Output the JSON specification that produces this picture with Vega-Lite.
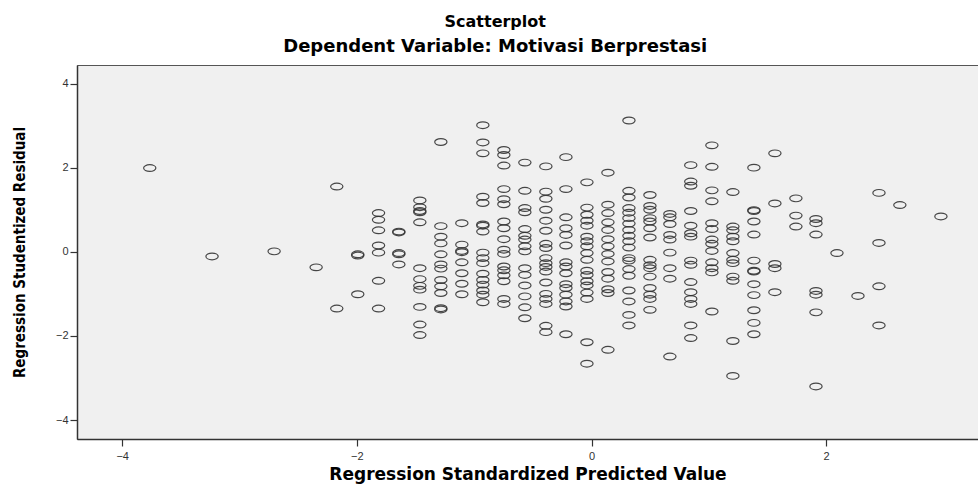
{
  "$schema": "https://vega.github.io/schema/vega-lite/v6.json",
  "width": 901,
  "height": 374,
  "autosize": {"type": "none"},
  "padding": {"left": 77, "top": 65, "right": 0, "bottom": 45},
  "background": "#ffffff",
  "title": {
    "text": "Scatterplot",
    "subtitle": "Dependent Variable: Motivasi Berprestasi",
    "anchor": "middle",
    "frame": "bounds",
    "font": "DejaVu Sans",
    "fontSize": 16,
    "fontWeight": "bold",
    "color": "#000000",
    "subtitleFont": "DejaVu Sans",
    "subtitleFontSize": 18,
    "subtitleFontWeight": "bold",
    "subtitleColor": "#000000",
    "subtitlePadding": 8,
    "offset": 9
  },
  "config": {
    "view": {"fill": "#f0f0f0", "stroke": "#555555", "strokeWidth": 1}
  },
  "data": {
    "values": [
      {"x": -3.765, "y": 1.99},
      {"x": -3.234, "y": -0.11},
      {"x": -2.705, "y": 0.01},
      {"x": -2.347, "y": -0.37},
      {"x": -2.171, "y": 1.55}, {"x": -2.171, "y": -1.35},
      {"x": -1.992, "y": -0.06}, {"x": -1.992, "y": -0.09}, {"x": -1.992, "y": -1.01},
      {"x": -1.815, "y": 0.92}, {"x": -1.815, "y": 0.76}, {"x": -1.815, "y": 0.51}, {"x": -1.815, "y": 0.15}, {"x": -1.815, "y": -0.02}, {"x": -1.815, "y": -0.69}, {"x": -1.815, "y": -1.35},
      {"x": -1.642, "y": 0.48}, {"x": -1.642, "y": 0.46}, {"x": -1.642, "y": -0.03}, {"x": -1.642, "y": -0.06}, {"x": -1.642, "y": -0.30},
      {"x": -1.463, "y": 1.22}, {"x": -1.463, "y": 1.06}, {"x": -1.463, "y": 0.97}, {"x": -1.463, "y": 0.94}, {"x": -1.463, "y": 0.70}, {"x": -1.463, "y": -0.39}, {"x": -1.463, "y": -0.65}, {"x": -1.463, "y": -0.81}, {"x": -1.463, "y": -0.90}, {"x": -1.463, "y": -1.31}, {"x": -1.463, "y": -1.73}, {"x": -1.463, "y": -1.98},
      {"x": -1.284, "y": 2.61}, {"x": -1.284, "y": 0.61}, {"x": -1.284, "y": 0.36}, {"x": -1.284, "y": 0.20}, {"x": -1.284, "y": -0.06}, {"x": -1.284, "y": -0.30}, {"x": -1.284, "y": -0.40}, {"x": -1.284, "y": -0.67}, {"x": -1.284, "y": -0.82}, {"x": -1.284, "y": -0.98}, {"x": -1.284, "y": -1.34}, {"x": -1.284, "y": -1.37},
      {"x": -1.105, "y": 0.68}, {"x": -1.105, "y": 0.17}, {"x": -1.105, "y": 0.02}, {"x": -1.105, "y": -0.01}, {"x": -1.105, "y": -0.25}, {"x": -1.105, "y": -0.51}, {"x": -1.105, "y": -0.76}, {"x": -1.105, "y": -1.01},
      {"x": -0.926, "y": 3.01}, {"x": -0.926, "y": 2.60}, {"x": -0.926, "y": 2.34}, {"x": -0.926, "y": 1.31}, {"x": -0.926, "y": 1.16}, {"x": -0.926, "y": 0.65}, {"x": -0.926, "y": 0.62}, {"x": -0.926, "y": 0.48}, {"x": -0.926, "y": -0.02}, {"x": -0.926, "y": -0.15}, {"x": -0.926, "y": -0.27}, {"x": -0.926, "y": -0.52}, {"x": -0.926, "y": -0.67}, {"x": -0.926, "y": -0.78}, {"x": -0.926, "y": -0.92}, {"x": -0.926, "y": -1.02}, {"x": -0.926, "y": -1.20},
      {"x": -0.747, "y": 2.42}, {"x": -0.747, "y": 2.30}, {"x": -0.747, "y": 2.05}, {"x": -0.747, "y": 1.49}, {"x": -0.747, "y": 1.25}, {"x": -0.747, "y": 1.13}, {"x": -0.747, "y": 0.72}, {"x": -0.747, "y": 0.56}, {"x": -0.747, "y": 0.30}, {"x": -0.747, "y": 0.05}, {"x": -0.747, "y": -0.05}, {"x": -0.747, "y": -0.35}, {"x": -0.747, "y": -0.44}, {"x": -0.747, "y": -0.56}, {"x": -0.747, "y": -0.70}, {"x": -0.747, "y": -1.12}, {"x": -0.747, "y": -1.24},
      {"x": -0.568, "y": 2.12}, {"x": -0.568, "y": 1.45}, {"x": -0.568, "y": 1.04}, {"x": -0.568, "y": 0.94}, {"x": -0.568, "y": 0.54}, {"x": -0.568, "y": 0.38}, {"x": -0.568, "y": 0.29}, {"x": -0.568, "y": 0.13}, {"x": -0.568, "y": 0.01}, {"x": -0.568, "y": -0.39}, {"x": -0.568, "y": -0.55}, {"x": -0.568, "y": -0.80}, {"x": -0.568, "y": -1.06}, {"x": -0.568, "y": -1.32}, {"x": -0.568, "y": -1.58},
      {"x": -0.389, "y": 2.03}, {"x": -0.389, "y": 1.43}, {"x": -0.389, "y": 1.26}, {"x": -0.389, "y": 1.00}, {"x": -0.389, "y": 0.74}, {"x": -0.389, "y": 0.50}, {"x": -0.389, "y": 0.19}, {"x": -0.389, "y": 0.09}, {"x": -0.389, "y": -0.15}, {"x": -0.389, "y": -0.27}, {"x": -0.389, "y": -0.36}, {"x": -0.389, "y": -0.47}, {"x": -0.389, "y": -0.73}, {"x": -0.389, "y": -1.00}, {"x": -0.389, "y": -1.12}, {"x": -0.389, "y": -1.24}, {"x": -0.389, "y": -1.76}, {"x": -0.389, "y": -1.91},
      {"x": -0.218, "y": 2.25}, {"x": -0.218, "y": 1.49}, {"x": -0.218, "y": 0.82}, {"x": -0.218, "y": 0.56}, {"x": -0.218, "y": 0.40}, {"x": -0.218, "y": 0.15}, {"x": -0.218, "y": -0.25}, {"x": -0.218, "y": -0.35}, {"x": -0.218, "y": -0.51}, {"x": -0.218, "y": -0.77}, {"x": -0.218, "y": -0.86}, {"x": -0.218, "y": -1.02}, {"x": -0.218, "y": -1.18}, {"x": -0.218, "y": -1.30}, {"x": -0.218, "y": -1.96},
      {"x": -0.039, "y": 1.65}, {"x": -0.039, "y": 1.05}, {"x": -0.039, "y": 0.88}, {"x": -0.039, "y": 0.74}, {"x": -0.039, "y": 0.62}, {"x": -0.039, "y": 0.36}, {"x": -0.039, "y": 0.25}, {"x": -0.039, "y": 0.13}, {"x": -0.039, "y": -0.03}, {"x": -0.039, "y": -0.19}, {"x": -0.039, "y": -0.45}, {"x": -0.039, "y": -0.55}, {"x": -0.039, "y": -0.70}, {"x": -0.039, "y": -0.80}, {"x": -0.039, "y": -0.97}, {"x": -0.039, "y": -1.12}, {"x": -0.039, "y": -2.15}, {"x": -0.039, "y": -2.66},
      {"x": 0.140, "y": 1.88}, {"x": 0.140, "y": 1.12}, {"x": 0.140, "y": 0.92}, {"x": 0.140, "y": 0.70}, {"x": 0.140, "y": 0.52}, {"x": 0.140, "y": 0.30}, {"x": 0.140, "y": 0.13}, {"x": 0.140, "y": -0.05}, {"x": 0.140, "y": -0.23}, {"x": 0.140, "y": -0.48}, {"x": 0.140, "y": -0.64}, {"x": 0.140, "y": -0.89}, {"x": 0.140, "y": -0.98}, {"x": 0.140, "y": -2.33},
      {"x": 0.319, "y": 3.12}, {"x": 0.319, "y": 1.45}, {"x": 0.319, "y": 1.29}, {"x": 0.319, "y": 1.04}, {"x": 0.319, "y": 0.93}, {"x": 0.319, "y": 0.80}, {"x": 0.319, "y": 0.67}, {"x": 0.319, "y": 0.52}, {"x": 0.319, "y": 0.38}, {"x": 0.319, "y": 0.25}, {"x": 0.319, "y": 0.10}, {"x": 0.319, "y": -0.15}, {"x": 0.319, "y": -0.21}, {"x": 0.319, "y": -0.41}, {"x": 0.319, "y": -0.57}, {"x": 0.319, "y": -0.92}, {"x": 0.319, "y": -1.18}, {"x": 0.319, "y": -1.50}, {"x": 0.319, "y": -1.75},
      {"x": 0.498, "y": 1.35}, {"x": 0.498, "y": 1.09}, {"x": 0.498, "y": 1.00}, {"x": 0.498, "y": 0.80}, {"x": 0.498, "y": 0.72}, {"x": 0.498, "y": 0.56}, {"x": 0.498, "y": 0.34}, {"x": 0.498, "y": -0.19}, {"x": 0.498, "y": -0.32}, {"x": 0.498, "y": -0.39}, {"x": 0.498, "y": -0.59}, {"x": 0.498, "y": -0.86}, {"x": 0.498, "y": -1.02}, {"x": 0.498, "y": -1.12}, {"x": 0.498, "y": -1.38},
      {"x": 0.668, "y": 0.90}, {"x": 0.668, "y": 0.82}, {"x": 0.668, "y": 0.66}, {"x": 0.668, "y": 0.40}, {"x": 0.668, "y": 0.29}, {"x": 0.668, "y": -0.02}, {"x": 0.668, "y": -0.39}, {"x": 0.668, "y": -0.64}, {"x": 0.668, "y": -2.49},
      {"x": 0.846, "y": 2.06}, {"x": 0.846, "y": 1.67}, {"x": 0.846, "y": 1.57}, {"x": 0.846, "y": 0.97}, {"x": 0.846, "y": 0.62}, {"x": 0.846, "y": 0.44}, {"x": 0.846, "y": 0.36}, {"x": 0.846, "y": -0.21}, {"x": 0.846, "y": -0.31}, {"x": 0.846, "y": -0.72}, {"x": 0.846, "y": -0.96}, {"x": 0.846, "y": -1.12}, {"x": 0.846, "y": -1.24}, {"x": 0.846, "y": -1.75}, {"x": 0.846, "y": -2.05},
      {"x": 1.026, "y": 2.53}, {"x": 1.026, "y": 2.02}, {"x": 1.026, "y": 1.46}, {"x": 1.026, "y": 1.20}, {"x": 1.026, "y": 0.68}, {"x": 1.026, "y": 0.54}, {"x": 1.026, "y": 0.29}, {"x": 1.026, "y": 0.19}, {"x": 1.026, "y": 0.02}, {"x": 1.026, "y": -0.25}, {"x": 1.026, "y": -0.39}, {"x": 1.026, "y": -0.49}, {"x": 1.026, "y": -1.42},
      {"x": 1.205, "y": 1.42}, {"x": 1.205, "y": 0.60}, {"x": 1.205, "y": 0.51}, {"x": 1.205, "y": 0.36}, {"x": 1.205, "y": 0.25}, {"x": 1.205, "y": -0.03}, {"x": 1.205, "y": -0.19}, {"x": 1.205, "y": -0.27}, {"x": 1.205, "y": -0.59}, {"x": 1.205, "y": -0.69}, {"x": 1.205, "y": -2.12}, {"x": 1.205, "y": -2.95},
      {"x": 1.384, "y": 2.00}, {"x": 1.384, "y": 0.99}, {"x": 1.384, "y": 0.97}, {"x": 1.384, "y": 0.72}, {"x": 1.384, "y": 0.41}, {"x": 1.384, "y": -0.21}, {"x": 1.384, "y": -0.45}, {"x": 1.384, "y": -0.47}, {"x": 1.384, "y": -0.77}, {"x": 1.384, "y": -1.03}, {"x": 1.384, "y": -1.39}, {"x": 1.384, "y": -1.69}, {"x": 1.384, "y": -1.96},
      {"x": 1.563, "y": 2.34}, {"x": 1.563, "y": 1.15}, {"x": 1.563, "y": -0.29}, {"x": 1.563, "y": -0.39}, {"x": 1.563, "y": -0.96},
      {"x": 1.742, "y": 1.27}, {"x": 1.742, "y": 0.86}, {"x": 1.742, "y": 0.60},
      {"x": 1.913, "y": 0.78}, {"x": 1.913, "y": 0.68}, {"x": 1.913, "y": 0.41}, {"x": 1.913, "y": -0.93}, {"x": 1.913, "y": -1.02}, {"x": 1.913, "y": -1.44}, {"x": 1.913, "y": -3.20},
      {"x": 2.092, "y": -0.03},
      {"x": 2.271, "y": -1.05},
      {"x": 2.450, "y": 1.40}, {"x": 2.450, "y": 0.21}, {"x": 2.450, "y": -0.82}, {"x": 2.450, "y": -1.75},
      {"x": 2.628, "y": 1.11},
      {"x": 2.978, "y": 0.84}
    ]
  },
  "mark": {
    "type": "point",
    "shape": "M-1,0C-1,-0.3038,-0.5523,-0.55,0,-0.55C0.5523,-0.55,1,-0.3038,1,0C1,0.3038,0.5523,0.55,0,0.55C-0.5523,0.55,-1,0.3038,-1,0Z",
    "filled": false,
    "size": 150,
    "color": "#333333",
    "strokeWidth": 1.2,
    "opacity": 0.9,
    "clip": true
  },
  "encoding": {
    "x": {
      "field": "x",
      "type": "quantitative",
      "scale": {"domain": [-4.385, 3.294], "nice": false, "zero": false},
      "axis": {
        "title": "Regression Standardized Predicted Value",
        "values": [-4, -2, 0, 2],
        "grid": false,
        "domainColor": "#333333",
        "domainWidth": 1.5,
        "tickColor": "#333333",
        "tickSize": 7,
        "tickWidth": 1.2,
        "labelFont": "Liberation Sans",
        "labelFontSize": 11,
        "labelColor": "#333333",
        "labelPadding": 4,
        "titleFont": "DejaVu Sans",
        "titleFontSize": 17,
        "titleFontWeight": "bold",
        "titleColor": "#000000",
        "titlePadding": 5
      }
    },
    "y": {
      "field": "y",
      "type": "quantitative",
      "scale": {"domain": [-4.45, 4.44], "nice": false, "zero": false},
      "axis": {
        "title": "Regression Studentized Residual",
        "values": [-4, -2, 0, 2, 4],
        "grid": false,
        "domainColor": "#333333",
        "domainWidth": 1.5,
        "tickColor": "#333333",
        "tickSize": 7,
        "tickWidth": 1.2,
        "labelFont": "Liberation Sans",
        "labelFontSize": 11,
        "labelColor": "#333333",
        "labelPadding": 2,
        "titleFont": "DejaVu Sans Condensed, Liberation Sans",
        "titleFontSize": 15,
        "titleFontWeight": "bold",
        "titleColor": "#000000",
        "titlePadding": 28
      }
    }
  }
}
